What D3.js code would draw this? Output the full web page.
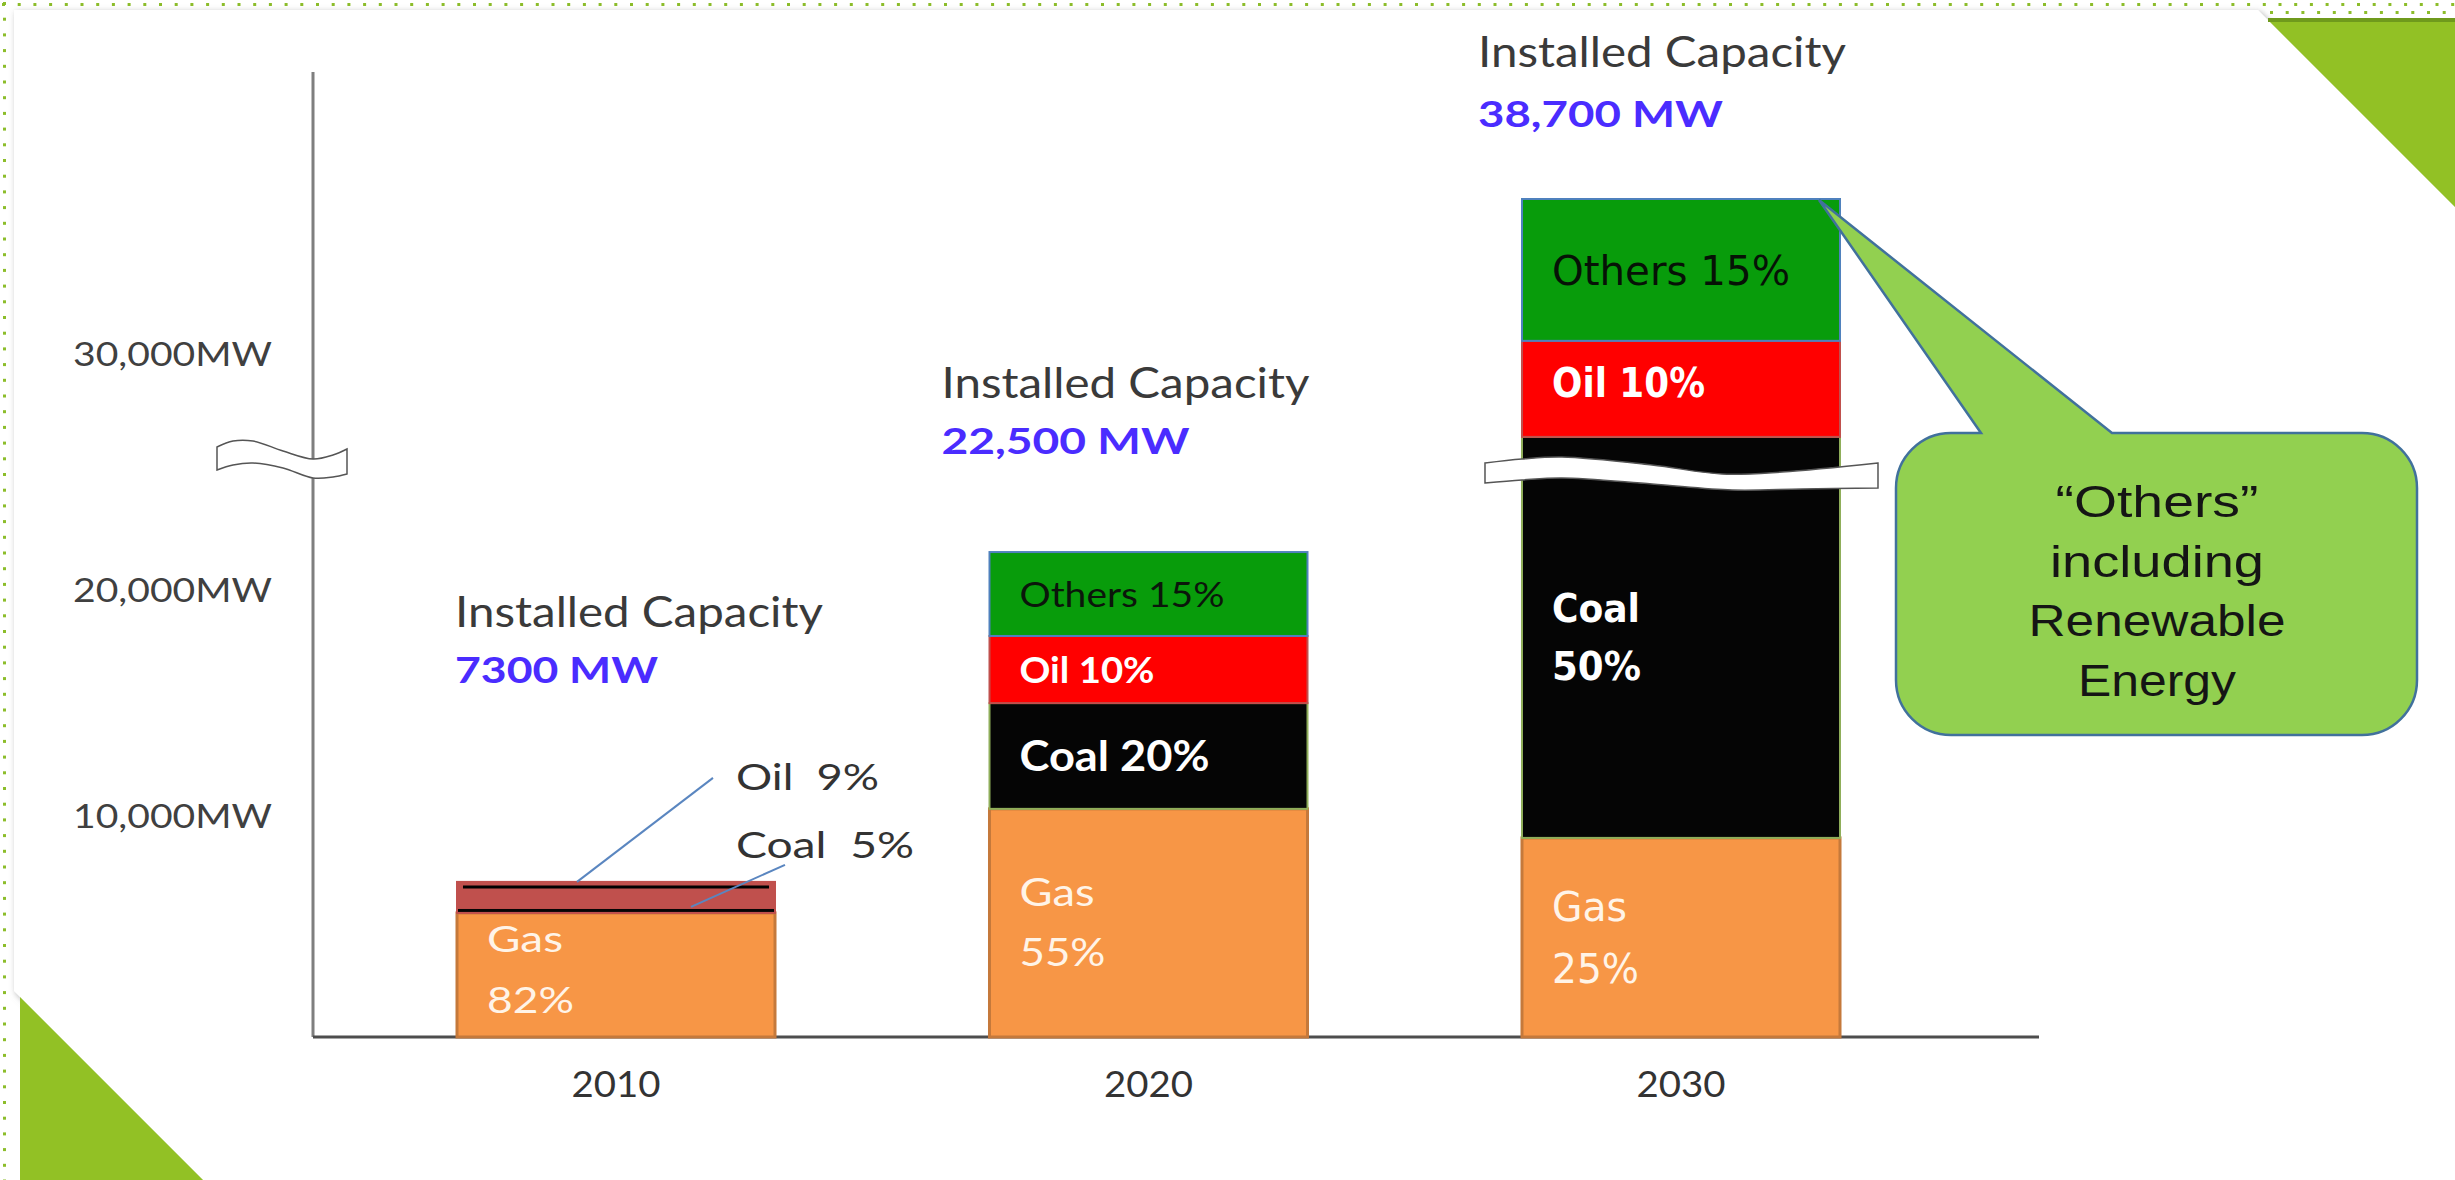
<!DOCTYPE html>
<html>
<head>
<meta charset="utf-8">
<script src="https://cdn.jsdelivr.net/npm/d3@7"></script>
<style>
html,body{margin:0;padding:0;background:#fff;overflow:hidden}
text{white-space:pre}
</style>
</head>
<body>
<svg id="chart" width="2455" height="1180"></svg>
<script>
// ================= DATA =================
const categories = ["2010", "2020", "2030"];
const fuels = ["Gas", "Coal", "Oil", "Others"];
const gasMW    = [5640, 10360, 9050];
const coalMW   = [230, 4680, 17480];
const oilMW    = [1180, 2970, 4070];
const othersMW = [0, 3640, 6010];
// shares printed in the picture (%)
const gasShare    = [82, 55, 25];
const coalShare   = [5, 20, 50];
const oilShare    = [9, 10, 10];
const othersShare = [null, 15, 15];
// installed capacity labels
const capacityTitle  = "Installed Capacity";
const capacityLabels = ["7300 MW", "22,500 MW", "38,700 MW"];
// y axis ticks
const yTicks = [10000, 20000, 30000];
const yTickLabels = ["10,000MW", "20,000MW", "30,000MW"];
// callout
const calloutLines = ["\u201cOthers\u201d", "including", "Renewable", "Energy"];

// ================= LAYOUT / STYLE =================
const W = 2455, H = 1180;
const LAYOUT = {
  axisX: 313, axisTop: 72, axisRight: 2039,
  yKnotsMW: [0, 10000, 20000, 30000, 40000],
  yKnotsPx: [1037, 817, 591, 355, 119],
  bandRange: [457, 1840], paddingInner: 0.4028,
  labelInset: 30,
  annotDx: [-2, -48, -44], annotDy1: [-255, -154, -132], annotDy2: [-199, -98, -72],
  yBreakCenter: 459, barBreakCenter: 474,
  callout: {x0: 1896, y0: 433, x1: 2417, y1: 735, r: 55, bx0: 1981, bx1: 2112, tipDx: -21, tipDy: 1,
            textX: 2157, textY: 517, lineGap: 59.5, lens: [203, 214, 257, 158]}
};
const FILL = {Gas: "#f79646", Coal: "#050505", Oil: "#ff0000", Others: "#089c0b"};
const STROKE = {Gas: "#c5793b", Coal: "#8fae5a", Oil: "#c0504d", Others: "#4f81bd"};
const FILL_2010 = {Oil: "#c0504d"};
const STROKE_2010 = {Coal: "#c0504d"};

const LABEL_STYLE = {
  "2010|Gas":    {font: "Lato", size: 36, weight: 400, fill: "#fff4e8", cap: 26, lens: [76, 87], gap: 61, dy: -5},
  "2020|Others": {font: "Lato", size: 35, weight: 400, fill: "#0b160b", cap: 25, lens: [205]},
  "2020|Oil":    {font: "Lato", size: 37, weight: 700, fill: "#ffffff", cap: 27, lens: [135]},
  "2020|Coal":   {font: "Lato", size: 42, weight: 700, fill: "#ffffff", cap: 30, lens: [190]},
  "2020|Gas":    {font: "Lato", size: 38, weight: 400, fill: "#fff4e8", cap: 27, lens: [75, 86], gap: 60},
  "2030|Others": {font: "DejaVu Sans", size: 41, weight: 400, fill: "#061206", cap: 30, lens: [238]},
  "2030|Oil":    {font: "DejaVu Sans", size: 41, weight: 700, fill: "#ffffff", cap: 30, lens: [153], dy: -7},
  "2030|Coal":   {font: "DejaVu Sans", size: 39, weight: 700, fill: "#ffffff", cap: 28, lens: [88, 89], gap: 58},
  "2030|Gas":    {font: "DejaVu Sans", size: 40, weight: 400, fill: "#fff4e8", cap: 29, lens: [75, 87], gap: 62}
};
// outside labels with leader lines (2010)
const LEADERS = {
  Oil:  {tx: 279, ty: -92, lens: 143, x1: 256, y1: -104, x2: 120, y2: 0},
  Coal: {tx: 279, ty: -24, lens: 178, x1: 328, y1: -17,  x2: 234, y2: -1}
};

// ================= SCALES =================
const svg = d3.select("#chart");
const x = d3.scaleBand().domain(categories).range(LAYOUT.bandRange).paddingInner(LAYOUT.paddingInner).paddingOuter(0);
const y = d3.scaleLinear().domain(LAYOUT.yKnotsMW).range(LAYOUT.yKnotsPx);

const shares = {Gas: gasShare, Coal: coalShare, Oil: oilShare, Others: othersShare};
const rows = categories.map((c, i) => ({cat: c, Gas: gasMW[i], Coal: coalMW[i], Oil: oilMW[i], Others: othersMW[i]}));
const stacked = d3.stack().keys(fuels)(rows);
const totals = rows.map(r => fuels.reduce((s, f) => s + r[f], 0));

// ================= PAGE DECORATION =================
const defs = svg.append("defs");
const f = defs.append("filter").attr("id", "shadow").attr("x", "-5%").attr("y", "-5%").attr("width", "110%").attr("height", "110%");
f.append("feDropShadow").attr("dx", 2).attr("dy", 2).attr("stdDeviation", 3).attr("flood-color", "#777").attr("flood-opacity", 0.6);

svg.append("rect").attr("width", W).attr("height", H).attr("fill", "#ffffff");
const dotColor = "#8cbd2a";
svg.append("g").selectAll("rect").data(d3.range(2, W, 15.7)).join("rect")
  .attr("x", d => d).attr("y", 3).attr("width", 3).attr("height", 3).attr("fill", dotColor);
svg.append("g").selectAll("rect").data(d3.range(2270, W, 15.7)).join("rect")
  .attr("x", d => d).attr("y", 11).attr("width", 3).attr("height", 3).attr("fill", dotColor);
svg.append("g").selectAll("rect").data(d3.range(2, H, 15.7)).join("rect")
  .attr("x", 3).attr("y", d => d).attr("width", 3).attr("height", 3).attr("fill", dotColor);

svg.append("path").attr("d", "M14,10 L2258,10 L2455,207 L2455,1180 L203,1180 L14,991 Z")
  .attr("fill", "#ffffff").attr("filter", "url(#shadow)");
svg.append("path").attr("d", "M2268,20 L2455,20 L2455,207 Z").attr("fill", "#92c125");
svg.append("line").attr("x1", 2268).attr("x2", 2455).attr("y1", 20).attr("y2", 20).attr("stroke", "#6f9a1c").attr("stroke-width", 4);
svg.append("path").attr("d", "M20,997 L203,1180 L20,1180 Z").attr("fill", "#92c125");

// ================= AXES =================
svg.append("line").attr("x1", LAYOUT.axisX).attr("x2", LAYOUT.axisX)
  .attr("y1", LAYOUT.axisTop).attr("y2", y(0)).attr("stroke", "#7f7f7f").attr("stroke-width", 3);
svg.append("line").attr("x1", LAYOUT.axisX).attr("x2", LAYOUT.axisRight)
  .attr("y1", y(0)).attr("y2", y(0)).attr("stroke", "#4d4d4d").attr("stroke-width", 3);

const yAxisG = svg.append("g").attr("transform", `translate(${LAYOUT.axisX},0)`)
  .call(d3.axisLeft(y).tickValues(yTicks).tickFormat((d, i) => yTickLabels[i]).tickSize(0).tickPadding(41));
yAxisG.select(".domain").remove();
yAxisG.selectAll("text").attr("font-family", "Lato").attr("font-size", 32).attr("fill", "#404040")
  .attr("textLength", 199).attr("lengthAdjust", "spacingAndGlyphs");

const xAxisG = svg.append("g").attr("transform", `translate(0,${y(0)})`)
  .call(d3.axisBottom(x).tickSize(0).tickPadding(34));
xAxisG.select(".domain").remove();
xAxisG.selectAll("text").attr("font-family", "Lato").attr("font-size", 37).attr("fill", "#333333")
  .attr("textLength", 89).attr("lengthAdjust", "spacingAndGlyphs");

// wavy break helper
function ribbon(top, bottom) {
  const ln = d3.line().curve(d3.curveCatmullRom);
  return ln(top) + ln(bottom).replace(/^M/, "L") + "Z";
}
// y-axis break
{
  const cx = LAYOUT.axisX, cy = LAYOUT.yBreakCenter;
  const top = [[-96,-12],[-80,-18],[-60,-18],[-30,-8],[0,0],[20,-4],[34,-10]].map(p => [cx + p[0], cy + p[1]]);
  const bot = [[34,15],[20,18],[0,19],[-30,9],[-60,4],[-80,6],[-96,11]].map(p => [cx + p[0], cy + p[1]]);
  svg.append("path").attr("d", ribbon(top, bot)).attr("fill", "#fff").attr("stroke", "#555").attr("stroke-width", 1.5);
}

// ================= BARS =================
const barG = svg.append("g");
stacked.forEach(layer => {
  const fuel = layer.key;
  barG.append("g").selectAll("rect").data(layer.filter(d => d[1] - d[0] > 0)).join("rect")
    .attr("x", d => x(d.data.cat))
    .attr("width", x.bandwidth())
    .attr("y", d => y(d[1]))
    .attr("height", d => y(d[0]) - y(d[1]))
    .attr("fill", d => d.data.cat === "2010" && FILL_2010[fuel] ? FILL_2010[fuel] : FILL[fuel])
    .attr("stroke", d => d.data.cat === "2010" && STROKE_2010[fuel] ? STROKE_2010[fuel] : STROKE[fuel])
    .attr("stroke-width", fuel === "Gas" ? 3 : 2);
});
// 2010 oil inner dark rule
{
  const oilLayer = stacked[fuels.indexOf("Oil")][0];
  const x0 = x("2010");
  svg.append("line").attr("x1", x0 + 6).attr("x2", x0 + x.bandwidth() - 6)
    .attr("y1", y(oilLayer[1]) + 5).attr("y2", y(oilLayer[1]) + 5)
    .attr("stroke", "#000").attr("stroke-width", 3);
}
// 2030 bar break
{
  const x0 = x("2030"), cy = LAYOUT.barBreakCenter;
  const top = [[-37,-11],[0,-15],[40,-17],[130,-9],[200,0],[260,-2],[356,-11]].map(p => [x0 + p[0], cy + p[1]]);
  const bot = [[356,14],[280,15],[210,16],[130,10],[40,4],[0,6],[-37,9]].map(p => [x0 + p[0], cy + p[1]]);
  svg.append("path").attr("d", ribbon(top, bot)).attr("fill", "#fff").attr("stroke", "#555").attr("stroke-width", 1.5);
}

// ================= BAR LABELS =================
const labG = svg.append("g");
stacked.forEach(layer => {
  const fuel = layer.key;
  layer.forEach((d, i) => {
    const cat = d.data.cat;
    const st = LABEL_STYLE[cat + "|" + fuel];
    if (!st) return;
    const pct = shares[fuel][i];
    const lines = st.lens.length === 2 ? [fuel, pct + "%"] : [fuel + " " + pct + "%"];
    const cy = (y(d[0]) + y(d[1])) / 2 + (st.dy || 0);
    const gap = st.gap || 0;
    lines.forEach((t, k) => {
      const base = lines.length === 2 ? cy + (k === 0 ? -gap / 2 : gap / 2) + st.cap / 2 : cy + st.cap / 2;
      labG.append("text").text(t)
        .attr("x", x(cat) + LAYOUT.labelInset).attr("y", base)
        .attr("font-family", st.font).attr("font-size", st.size).attr("font-weight", st.weight)
        .attr("fill", st.fill)
        .attr("textLength", st.lens[k]).attr("lengthAdjust", "spacingAndGlyphs");
    });
  });
});

// 2010 outside labels with leaders
["Oil", "Coal"].forEach(fuel => {
  const L = LEADERS[fuel];
  const seg = stacked[fuels.indexOf(fuel)][0];
  const x0 = x("2010"), top = y(totals[0]), segTop = y(seg[1]);
  svg.append("line").attr("x1", x0 + L.x1).attr("y1", top + L.y1)
    .attr("x2", x0 + L.x2).attr("y2", segTop + L.y2)
    .attr("stroke", "#5a86c0").attr("stroke-width", 2);
  svg.append("text").text(fuel + "  " + shares[fuel][0] + "%")
    .attr("x", x0 + L.tx).attr("y", top + L.ty)
    .attr("font-family", "Lato").attr("font-size", 37).attr("fill", "#333")
    .attr("textLength", L.lens).attr("lengthAdjust", "spacingAndGlyphs");
});

// ================= CAPACITY ANNOTATIONS =================
categories.forEach((c, i) => {
  const bx = x(c) + LAYOUT.annotDx[i], top = y(totals[i]);
  svg.append("text").text(capacityTitle)
    .attr("x", bx).attr("y", top + LAYOUT.annotDy1[i])
    .attr("font-family", "Lato").attr("font-size", 42).attr("fill", "#3a3a3a")
    .attr("textLength", 368).attr("lengthAdjust", "spacingAndGlyphs");
  svg.append("text").text(capacityLabels[i])
    .attr("x", bx).attr("y", top + LAYOUT.annotDy2[i])
    .attr("font-family", "Lato").attr("font-size", 36).attr("font-weight", 700).attr("fill", "#4a2cff")
    .attr("textLength", [203, 248, 245][i]).attr("lengthAdjust", "spacingAndGlyphs");
});

// ================= CALLOUT =================
{
  const C = LAYOUT.callout;
  const tipX = x("2030") + x.bandwidth() + C.tipDx, tipY = y(totals[2]) + C.tipDy;
  const p = d3.path();
  p.moveTo(C.bx0, C.y0); p.lineTo(tipX, tipY); p.lineTo(C.bx1, C.y0);
  p.lineTo(C.x1 - C.r, C.y0); p.arcTo(C.x1, C.y0, C.x1, C.y0 + C.r, C.r);
  p.lineTo(C.x1, C.y1 - C.r); p.arcTo(C.x1, C.y1, C.x1 - C.r, C.y1, C.r);
  p.lineTo(C.x0 + C.r, C.y1); p.arcTo(C.x0, C.y1, C.x0, C.y1 - C.r, C.r);
  p.lineTo(C.x0, C.y0 + C.r); p.arcTo(C.x0, C.y0, C.x0 + C.r, C.y0, C.r);
  p.closePath();
  svg.append("path").attr("d", p.toString()).attr("fill", "#92d050").attr("stroke", "#41719c").attr("stroke-width", 2.5);
  svg.append("g").selectAll("text").data(calloutLines).join("text")
    .text(d => d)
    .attr("x", C.textX).attr("y", (d, i) => C.textY + i * C.lineGap)
    .attr("text-anchor", "middle")
    .attr("font-family", "Liberation Sans").attr("font-size", 44).attr("fill", "#151515")
    .attr("textLength", (d, i) => C.lens[i]).attr("lengthAdjust", "spacingAndGlyphs");
}
</script>
</body>
</html>
